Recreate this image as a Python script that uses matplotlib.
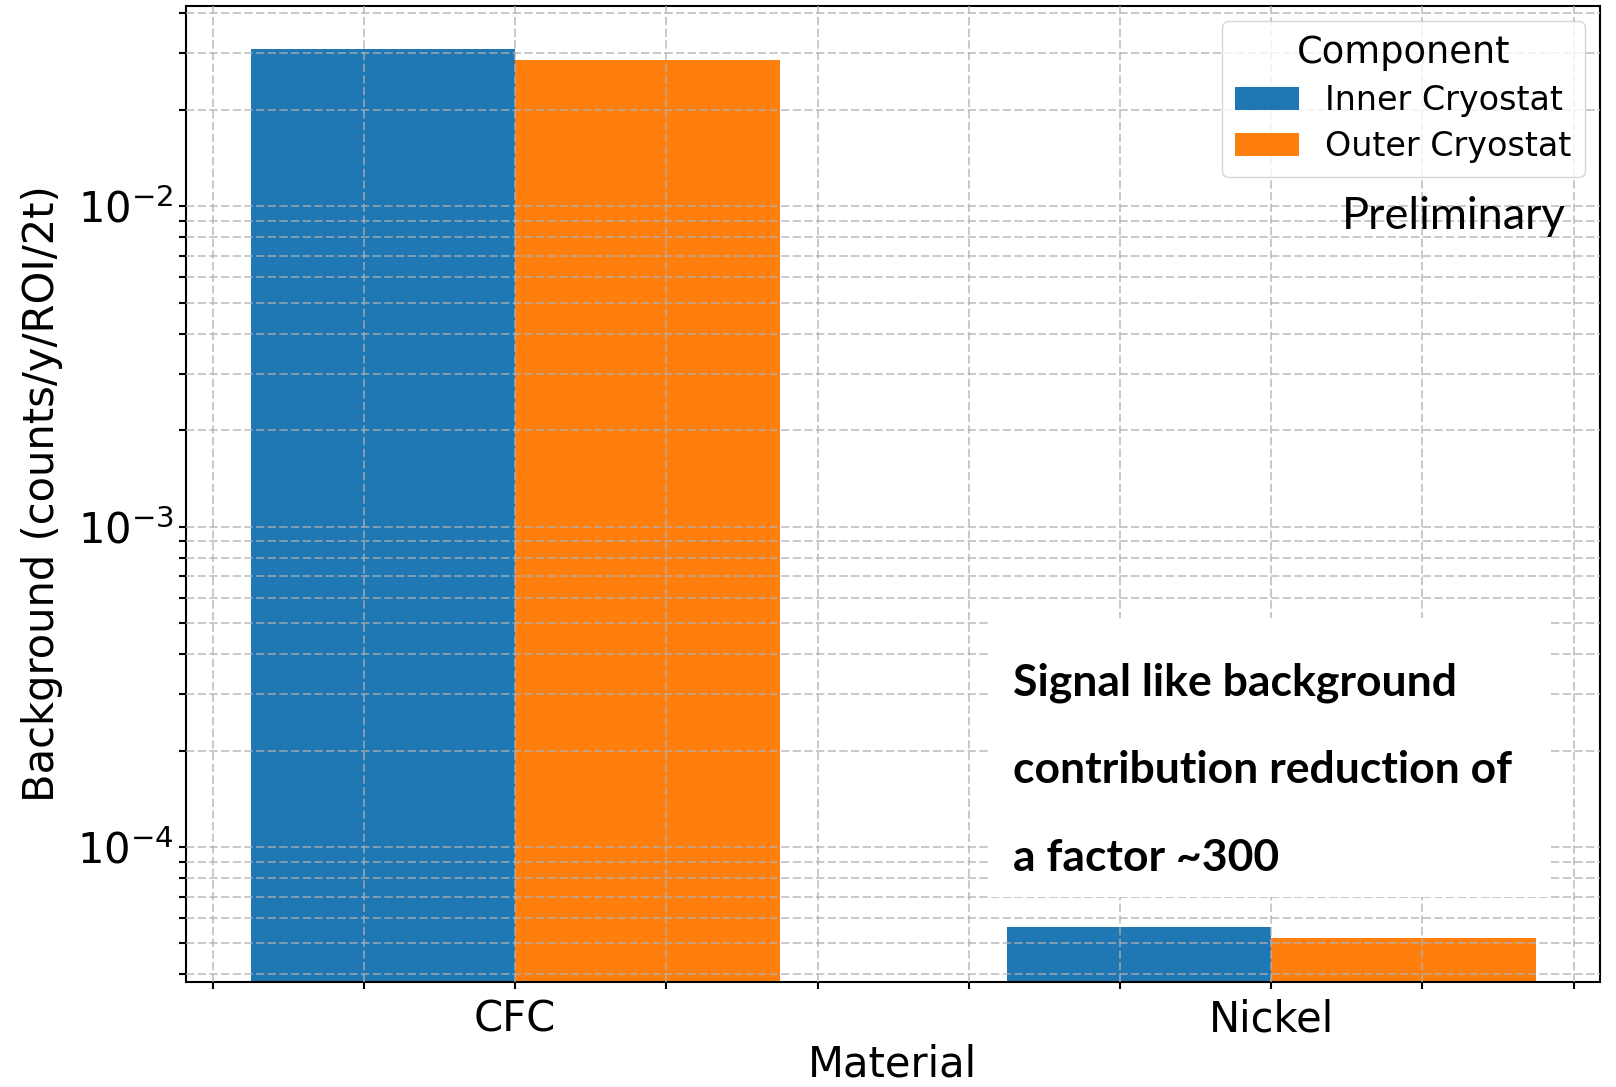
import matplotlib
matplotlib.use("Agg")
import matplotlib.pyplot as plt
import numpy as np
from matplotlib.ticker import FixedLocator, MultipleLocator, LogLocator, NullFormatter
from matplotlib.patches import Rectangle

materials = ["CFC", "Nickel"]
components = ["Inner Cryostat", "Outer Cryostat"]
inner_vals = [0.0308, 5.61e-5]
outer_vals = [0.0286, 5.21e-5]
colors = ["#1f77b4", "#ff7f0e"]

plt.rcParams['font.family'] = ['DejaVu Sans']
FS = 30

fig = plt.figure(figsize=(16.16, 10.87), dpi=100)
ax = fig.add_axes([185.5/1616, 1-982/1087, (1600-185.5)/1616, (982-6)/1087])

x = np.arange(len(materials))
w = 0.35
ax.bar(x - w/2, inner_vals, width=w, color=colors[0], label=components[0])
ax.bar(x + w/2, outer_vals, width=w, color=colors[1], label=components[1])

ax.set_yscale('log')
ax.set_ylim(3.79e-5, 0.0421)
ax.set_xlim(-0.436, 1.435)

ax.xaxis.set_major_locator(FixedLocator(x))
ax.set_xticklabels(materials)
ax.xaxis.set_minor_locator(MultipleLocator(0.2))
ax.yaxis.set_minor_locator(LogLocator(base=10, subs=np.arange(2, 10)))
ax.yaxis.set_minor_formatter(NullFormatter())

ax.tick_params(axis='both', which='both', length=5, width=1.5, labelsize=FS)
ax.tick_params(axis='x', which='major', pad=7)
ax.set_axisbelow(False)
ax.grid(True, which='both', linestyle=(0, (5, 2)), linewidth=1.2, color='#b0b0b0', alpha=0.8)
for s in ax.spines.values():
    s.set_linewidth(1.5)

ax.set_xlabel("Material", fontsize=FS, labelpad=2)
ax.set_ylabel("Background (counts/y/ROI/2t)", fontsize=FS, labelpad=10)

leg = ax.legend(title="Component", fontsize=24, title_fontsize=26.5, loc='upper right',
                handlelength=1.9, borderaxespad=0.45, labelspacing=0.39)
leg.set_zorder(5)

ax.text(0.976, 0.7715, "Preliminary", transform=ax.transAxes, ha='right', va='baseline',
        fontsize=32.5, family=['Lato', 'DejaVu Sans'], zorder=6)

ax.add_patch(Rectangle((0.5695, 0.0871), 0.9653-0.5695, 0.373-0.0871, transform=ax.transAxes,
                       facecolor='white', edgecolor='none', zorder=3))
lines = ["Signal like background", "contribution reduction of", "a factor ~300"]
ys = [0.2933, 0.2039, 0.1137]
for t, yy in zip(lines, ys):
    ax.text(0.585, yy, t, transform=ax.transAxes, ha='left', va='baseline', fontsize=32,
            fontweight='bold', family=['Lato', 'DejaVu Sans'], zorder=4)

fig.savefig("out.png", dpi=100)
